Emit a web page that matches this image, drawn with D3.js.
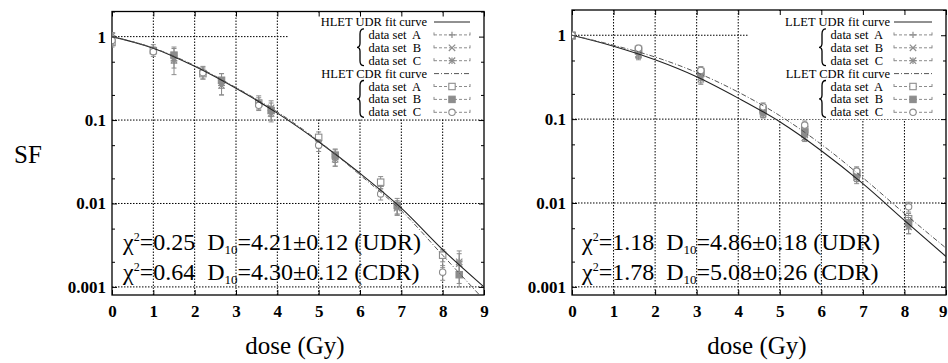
<!DOCTYPE html>
<html>
<head>
<meta charset="utf-8">
<script src="https://cdn.jsdelivr.net/npm/d3@7"></script>
<style>
    body { margin: 0; background: #fff; }
    svg text { font-family: "Liberation Serif", "Times New Roman", serif; fill: #000; }
</style>
</head>
<body>
<svg id="chart" width="948" height="363" font-family="Liberation Serif, serif"></svg>
<script>
// axis ticks
const doseTicks = [0, 1, 2, 3, 4, 5, 6, 7, 8, 9];
const sfTicks = [1, 0.1, 0.01, 0.001];
const sfTickLabels = ['1', '0.1', '0.01', '0.001'];
const sfMinorTicks = [2, 0.5, 0.2, 0.05, 0.02, 0.005, 0.002];

// fit curves at whole doses
const fitDose = [0, 1, 2, 3, 4, 5, 6, 7, 8, 9];
const hletUdrFit = [1, 0.726, 0.44, 0.24, 0.121, 0.055, 0.023, 0.0088, 0.0028, 0.001];
const hletCdrFit = [1, 0.73, 0.45, 0.245, 0.125, 0.056, 0.022, 0.0082, 0.0024, 0.0007];
const lletUdrFit = [1, 0.74, 0.51, 0.32, 0.178, 0.093, 0.042, 0.017, 0.0062, 0.0023];
const lletCdrFit = [1, 0.76, 0.55, 0.36, 0.21, 0.11, 0.05, 0.02, 0.0075, 0.0029];

// HLET measurements
const hletUdrADose = [0, 1.0, 2.2, 3.55, 5.0, 6.5, 8.0];
const hletUdrASF = [1.0, 0.72, 0.39, 0.17, 0.055, 0.016, 0.0022];
const hletUdrAErr = [0.12, 0.08, 0.05, 0.025, 0.009, 0.003, 0.0005];
const hletUdrBDose = [0, 1.5, 2.65, 3.85, 5.4, 6.9, 8.4];
const hletUdrBSF = [0.95, 0.55, 0.28, 0.14, 0.036, 0.009, 0.0019];
const hletUdrBErr = [0.15, 0.2, 0.08, 0.03, 0.008, 0.0018, 0.0008];
const hletUdrCDose = [0, 1.5, 2.65, 3.85, 5.4, 6.9, 8.4];
const hletUdrCSF = [1.02, 0.52, 0.26, 0.12, 0.034, 0.0088, 0.002];
const hletUdrCErr = [0.1, 0.1, 0.06, 0.025, 0.006, 0.0015, 0.0005];
const hletCdrADose = [0, 1.0, 2.2, 3.55, 5.0, 6.5, 8.0];
const hletCdrASF = [0.85, 0.68, 0.36, 0.16, 0.062, 0.018, 0.0024];
const hletCdrAErr = [0.1, 0.07, 0.05, 0.025, 0.01, 0.003, 0.0004];
const hletCdrBDose = [1.5, 2.65, 3.85, 5.4, 6.9, 8.4];
const hletCdrBSF = [0.6, 0.3, 0.13, 0.038, 0.0095, 0.0014];
const hletCdrBErr = [0.12, 0.06, 0.03, 0.007, 0.002, 0.0004];
const hletCdrCDose = [0, 1.0, 2.2, 3.55, 5.0, 6.5, 8.0];
const hletCdrCSF = [0.9, 0.66, 0.37, 0.15, 0.05, 0.013, 0.0015];
const hletCdrCErr = [0.1, 0.08, 0.06, 0.02, 0.008, 0.002, 0.0003];

// LLET measurements
const lletDose = [0, 1.6, 3.1, 4.6, 5.6, 6.85, 8.1];
const lletUdrASF = [1.0, 0.62, 0.33, 0.12, 0.062, 0.019, 0.0055];
const lletUdrAErr = [0.05, 0.08, 0.04, 0.015, 0.007, 0.002, 0.0012];
const lletUdrBSF = [1.0, 0.58, 0.3, 0.115, 0.06, 0.02, 0.006];
const lletUdrBErr = [0.05, 0.07, 0.04, 0.012, 0.006, 0.002, 0.0008];
const lletUdrCSF = [1.0, 0.6, 0.32, 0.12, 0.065, 0.021, 0.0052];
const lletUdrCErr = [0.05, 0.07, 0.05, 0.015, 0.008, 0.003, 0.0009];
const lletCdrASF = [1.0, 0.68, 0.37, 0.13, 0.075, 0.023, 0.0065];
const lletCdrAErr = [0.05, 0.07, 0.05, 0.015, 0.01, 0.003, 0.001];
const lletCdrBSF = [0.98, 0.65, 0.35, 0.125, 0.07, 0.022, 0.0058];
const lletCdrBErr = [0.05, 0.06, 0.04, 0.014, 0.008, 0.003, 0.0009];
const lletCdrCSF = [1.0, 0.7, 0.38, 0.14, 0.085, 0.024, 0.009];
const lletCdrCErr = [0.05, 0.06, 0.04, 0.016, 0.01, 0.003, 0.0012];

// fit summaries
const hletStats = [
    { chi: '0.25', d10: '4.21', err: '0.12', mode: 'UDR' },
    { chi: '0.64', d10: '4.30', err: '0.12', mode: 'CDR' }
];
const lletStats = [
    { chi: '1.18', d10: '4.86', err: '0.18', mode: 'UDR' },
    { chi: '1.78', d10: '5.08', err: '0.26', mode: 'CDR' }
];

const zip = (d, s, e) => d.map((v, i) => ({ dose: v, sf: s[i], err: e[i] }));

const panels = [
    {
        tag: 'HLET', x0: 112, x1: 484, yTop: 11.5, yBot: 295,
        keyLeft: 288, keyText: 427, keySub: 421, keyBrace: 360, keySample: [434, 470],
        statsX: 123, titleX: 295,
        udrFit: hletUdrFit, cdrFit: hletCdrFit,
        sets: [
            { sym: 'plus', data: zip(hletUdrADose, hletUdrASF, hletUdrAErr) },
            { sym: 'cross', data: zip(hletUdrBDose, hletUdrBSF, hletUdrBErr) },
            { sym: 'star', data: zip(hletUdrCDose, hletUdrCSF, hletUdrCErr) },
            { sym: 'square', data: zip(hletCdrADose, hletCdrASF, hletCdrAErr) },
            { sym: 'fsquare', data: zip(hletCdrBDose, hletCdrBSF, hletCdrBErr) },
            { sym: 'circle', data: zip(hletCdrCDose, hletCdrCSF, hletCdrCErr) }
        ],
        stats: hletStats
    },
    {
        tag: 'LLET', x0: 572, x1: 946, yTop: 10, yBot: 295,
        keyLeft: 749, keyText: 890, keySub: 883, keyBrace: 822, keySample: [894, 932],
        statsX: 582, titleX: 757,
        udrFit: lletUdrFit, cdrFit: lletCdrFit,
        sets: [
            { sym: 'plus', data: zip(lletDose, lletUdrASF, lletUdrAErr) },
            { sym: 'cross', data: zip(lletDose, lletUdrBSF, lletUdrBErr) },
            { sym: 'star', data: zip(lletDose, lletUdrCSF, lletUdrCErr) },
            { sym: 'square', data: zip(lletDose, lletCdrASF, lletCdrAErr) },
            { sym: 'fsquare', data: zip(lletDose, lletCdrBSF, lletCdrBErr) },
            { sym: 'circle', data: zip(lletDose, lletCdrCSF, lletCdrCErr) }
        ],
        stats: lletStats
    }
];

const svg = d3.select('#chart');
const gray = '#8c8c8c';

function marker(sel, sym, x, y) {
    const r = 3.2;
    if (sym === 'plus' || sym === 'star') {
        sel.append('path').attr('d', `M${x - r},${y}H${x + r}M${x},${y - r}V${y + r}`)
            .attr('stroke', gray).attr('stroke-width', 1.2);
    }
    if (sym === 'cross' || sym === 'star') {
        sel.append('path').attr('d', `M${x - r},${y - r}L${x + r},${y + r}M${x - r},${y + r}L${x + r},${y - r}`)
            .attr('stroke', gray).attr('stroke-width', 1.2);
    }
    if (sym === 'square' || sym === 'fsquare') {
        sel.append('rect').attr('x', x - r).attr('y', y - r).attr('width', 2 * r).attr('height', 2 * r)
            .attr('fill', sym === 'fsquare' ? gray : '#fff').attr('stroke', gray).attr('stroke-width', 1.1);
    }
    if (sym === 'circle') {
        sel.append('circle').attr('cx', x).attr('cy', y).attr('r', r)
            .attr('fill', '#fff').attr('stroke', gray).attr('stroke-width', 1.1);
    }
}

function brace(sel, x, yt, yb) {
    const ym = (yt + yb) / 2;
    sel.append('path')
        .attr('d', `M${x + 4},${yt} Q${x},${yt} ${x},${yt + 5} L${x},${ym - 4} Q${x},${ym} ${x - 3},${ym} ` +
            `Q${x},${ym} ${x},${ym + 4} L${x},${yb - 5} Q${x},${yb} ${x + 4},${yb}`)
        .attr('fill', 'none').attr('stroke', '#000').attr('stroke-width', 1.3);
}

panels.forEach((p, pi) => {
    const x = d3.scaleLinear().domain([0, 9]).range([p.x0, p.x1]);
    const y = d3.scaleLog().domain([0.0008, 2]).range([p.yBot, p.yTop]);
    const g = svg.append('g');

    g.append('clipPath').attr('id', `clip${pi}`)
        .append('rect').attr('x', p.x0).attr('y', p.yTop)
        .attr('width', p.x1 - p.x0).attr('height', p.yBot - p.yTop);

    // grid
    const grid = g.append('g').attr('stroke', '#000').attr('stroke-width', 1)
        .attr('stroke-dasharray', '1.5,1.5');
    grid.selectAll('.gx').data(doseTicks.slice(1, -1)).join('line')
        .attr('x1', d => x(d)).attr('x2', d => x(d))
        .attr('y1', p.yTop).attr('y2', p.yBot);
    grid.selectAll('.gy').data(sfTicks).join('line')
        .attr('x1', p.x0).attr('x2', p.x1)
        .attr('y1', d => y(d)).attr('y2', d => y(d));

    // key area blanks the grid behind it
    g.append('rect').attr('x', p.keyLeft).attr('y', p.yTop + 1)
        .attr('width', p.x1 - p.keyLeft - 1).attr('height', 118 - p.yTop)
        .attr('fill', '#fff');

    // axes (ticks pointing inward)
    const fontAxis = s => s.attr('font-family', 'Liberation Serif, serif').selectAll('text')
        .style('font-size', '17px').style('font-weight', 'bold').attr('fill', '#000');
    const clean = s => { s.select('.domain').remove(); s.selectAll('line').attr('stroke', '#000'); };

    const bottom = g.append('g').attr('transform', `translate(0,${p.yBot})`)
        .call(d3.axisBottom(x).tickValues(doseTicks).tickSize(-5).tickPadding(10).tickFormat(d3.format('d')))
        .call(clean).call(fontAxis);
    // keep the last label inside the page
    if (p.x1 > 940) bottom.selectAll('text').filter(d => d === 9).attr('text-anchor', 'end').attr('dx', 1);
    g.append('g').attr('transform', `translate(0,${p.yTop})`)
        .call(d3.axisTop(x).tickValues(doseTicks).tickSize(-5).tickFormat(''))
        .call(clean);
    g.append('g').attr('transform', `translate(${p.x0},0)`)
        .call(d3.axisLeft(y).tickValues(sfTicks).tickSize(-5).tickPadding(6)
            .tickFormat((d, i) => sfTickLabels[i]))
        .call(clean).call(fontAxis);
    g.append('g').attr('transform', `translate(${p.x1},0)`)
        .call(d3.axisRight(y).tickValues(sfTicks).tickSize(-5).tickFormat(''))
        .call(clean);
    g.append('g').attr('transform', `translate(${p.x0},0)`)
        .call(d3.axisLeft(y).tickValues(sfMinorTicks).tickSize(-3).tickFormat(''))
        .call(clean);
    g.append('g').attr('transform', `translate(${p.x1},0)`)
        .call(d3.axisRight(y).tickValues(sfMinorTicks).tickSize(-3).tickFormat(''))
        .call(clean);

    // frame
    g.append('rect').attr('x', p.x0).attr('y', p.yTop)
        .attr('width', p.x1 - p.x0).attr('height', p.yBot - p.yTop)
        .attr('fill', 'none').attr('stroke', '#000').attr('stroke-width', 1.3);

    const plot = g.append('g').attr('clip-path', `url(#clip${pi})`);

    // data points with error bars
    p.sets.forEach(set => {
        const sg = plot.append('g');
        set.data.forEach(d => {
            const cx = x(d.dose);
            const lo = y(Math.max(d.sf - d.err, 0.0005));
            const hi = y(d.sf + d.err);
            sg.append('path')
                .attr('d', `M${cx},${lo}V${hi}M${cx - 2.5},${lo}H${cx + 2.5}M${cx - 2.5},${hi}H${cx + 2.5}`)
                .attr('stroke', gray).attr('stroke-width', 1).attr('fill', 'none');
            marker(sg, set.sym, cx, y(d.sf));
        });
    });

    // fit curves
    const line = d3.line().x((d, i) => x(fitDose[i])).y(d => y(d)).curve(d3.curveMonotoneX);
    plot.append('path').datum(p.udrFit).attr('d', line)
        .attr('fill', 'none').attr('stroke', '#222').attr('stroke-width', 1.1);
    plot.append('path').datum(p.cdrFit).attr('d', line)
        .attr('fill', 'none').attr('stroke', '#555').attr('stroke-width', 1)
        .attr('stroke-dasharray', '5,2,1,2');

    // key
    const key = g.append('g').style('font-size', '12.5px');
    const rowY = i => 26 + i * 12.9;
    const [sx0, sx1] = p.keySample;
    const rows = [
        { label: `${p.tag} UDR fit curve`, fit: 'udr' },
        { label: 'data set  A', set: 0 },
        { label: 'data set  B', set: 1 },
        { label: 'data set  C', set: 2 },
        { label: `${p.tag} CDR fit curve`, fit: 'cdr' },
        { label: 'data set  A', set: 3 },
        { label: 'data set  B', set: 4 },
        { label: 'data set  C', set: 5 }
    ];
    rows.forEach((r, i) => {
        const ty = rowY(i);
        key.append('text').attr('x', r.fit ? p.keyText : p.keySub).attr('y', ty)
            .attr('text-anchor', 'end').style('white-space', 'pre').text(r.label);
        const ly = ty - 4;
        if (r.fit) {
            key.append('line').attr('x1', sx0).attr('x2', sx1).attr('y1', ly).attr('y2', ly)
                .attr('stroke', r.fit === 'udr' ? '#222' : '#555').attr('stroke-width', 1)
                .attr('stroke-dasharray', r.fit === 'udr' ? null : '5,2,1,2');
        } else {
            key.append('path')
                .attr('d', `M${sx0},${ly}H${sx1}M${sx0},${ly - 2.5}V${ly + 2.5}M${sx1},${ly - 2.5}V${ly + 2.5}`)
                .attr('stroke', gray).attr('stroke-width', 1).attr('fill', 'none')
                .attr('stroke-dasharray', '3,2');
            marker(key, p.sets[r.set].sym, (sx0 + sx1) / 2, ly);
        }
    });
    brace(key, p.keyBrace, rowY(1) - 10, rowY(3) + 1);
    brace(key, p.keyBrace, rowY(5) - 10, rowY(7) + 1);

    // fit summary text
    p.stats.forEach((s, i) => {
        const t = g.append('text').attr('x', p.statsX).attr('y', 250 + i * 30)
            .style('font-size', '24px').style('white-space', 'pre');
        t.append('tspan').text('\u03C7');
        t.append('tspan').attr('dy', -9).style('font-size', '12px').text('2');
        t.append('tspan').attr('dy', 9).text(`=${s.chi}  D`);
        t.append('tspan').attr('dy', 4).style('font-size', '13px').text('10');
        t.append('tspan').attr('dy', -4).text(`=${s.d10}\u00B1${s.err} (${s.mode})`);
    });

    // x title
    g.append('text').attr('x', p.titleX).attr('y', 354).attr('text-anchor', 'middle')
        .style('font-size', '25px').text('dose (Gy)');
});

// shared y title
svg.append('text').attr('x', 28).attr('y', 163).attr('text-anchor', 'middle')
    .style('font-size', '25px').text('SF');
</script>
</body>
</html>
